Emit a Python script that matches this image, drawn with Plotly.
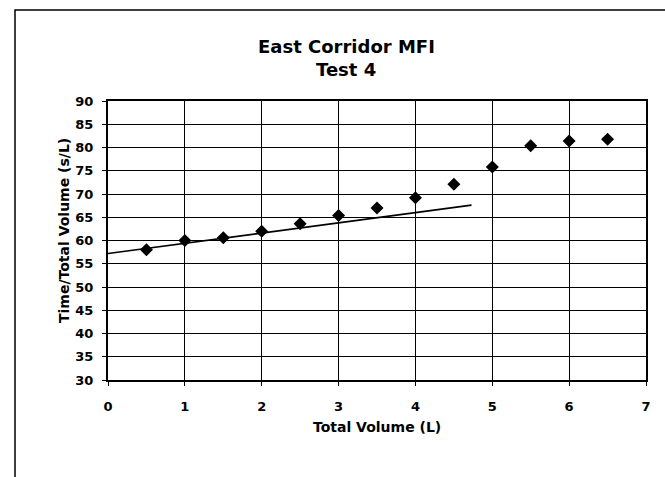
import plotly.graph_objects as go

# Measured MFI data: cumulative filtrate volume vs time/volume ratio
total_volume = [0.5, 1.0, 1.5, 2.0, 2.5, 3.0, 3.5, 4.0, 4.5, 5.0, 5.5, 6.0, 6.5]
time_per_volume = [58.0, 60.0, 60.6, 62.0, 63.6, 65.4, 67.0, 69.2, 72.1, 75.8, 80.4, 81.4, 81.8]

# Linear trend over the early (cake filtration) region
trend_volume = [0.0, 4.73]
trend_ratio = [57.2, 67.6]

x_ticks = [0, 1, 2, 3, 4, 5, 6, 7]
y_ticks = [30, 35, 40, 45, 50, 55, 60, 65, 70, 75, 80, 85, 90]

FONT = "DejaVu Sans, Arial, sans-serif"

fig = go.Figure()
fig.add_trace(go.Scatter(
    x=trend_volume, y=trend_ratio, mode="lines",
    line=dict(color="black", width=1.6), showlegend=False, hoverinfo="skip",
))
fig.add_trace(go.Scatter(
    x=total_volume, y=time_per_volume, mode="markers",
    marker=dict(symbol="diamond", color="black", size=10),
    showlegend=False,
))

W, H = 665, 477
L, R, T, B = 108, 646, 101, 380
pw, ph = R - L, B - T


def px(x):
    return (x - L) / pw


def py(y):
    return (B - y) / ph


def label(text, x, y, size, angle=0):
    return dict(text=f"<b>{text}</b>", xref="paper", yref="paper",
                x=px(x), y=py(y), xanchor="center", yanchor="middle",
                showarrow=False, textangle=angle,
                font=dict(family=FONT, size=size, color="black"))


axis_common = dict(
    showgrid=True, gridcolor="black", gridwidth=1.2,
    showline=True, linecolor="black", linewidth=2, mirror=True,
    ticks="outside", ticklen=4, tickcolor="black", tickwidth=1.2,
    tickfont=dict(family=FONT, size=13, color="black", weight="bold"),
    zeroline=False,
)

fig.update_layout(
    width=W, height=H,
    margin=dict(l=L, r=W - R, t=T, b=H - B),
    paper_bgcolor="white", plot_bgcolor="white",
    font=dict(family=FONT, color="black"),
    xaxis=dict(range=[0, 7], tickvals=x_ticks,
               ticktext=[str(v) for v in x_ticks],
               ticklabelstandoff=9, **axis_common),
    yaxis=dict(range=[30, 90], tickvals=y_ticks,
               ticktext=[str(v) for v in y_ticks],
               ticklabelstandoff=6, **axis_common),
    shapes=[
        # outer chart-area frame
        dict(type="rect", xref="paper", yref="paper",
             x0=px(15), x1=px(700), y0=py(520), y1=py(10),
             line=dict(color="black", width=1.5), layer="below"),
    ],
    annotations=[
        label("East Corridor MFI", 346, 47, 18),
        label("Test 4", 346, 70, 18),
        label("Total Volume (L)", 377, 427, 14),
        label("Time/Total Volume (s/L)", 64, 231, 14, angle=-90),
    ],
)

fig.write_html("out.html")
